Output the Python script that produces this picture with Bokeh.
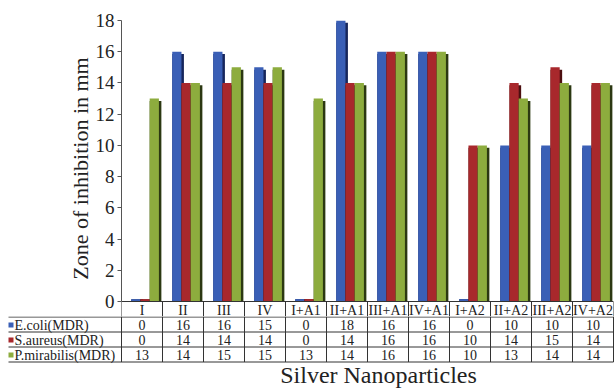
from bokeh.plotting import figure
from bokeh.models import Range1d, FixedTicker
from bokeh.core.properties import value
from bokeh.embed import file_html
from bokeh.resources import INLINE

# ---------------- data ----------------
categories = ["I", "II", "III", "IV", "I+A1", "II+A1", "III+A1", "IV+A1",
              "I+A2", "II+A2", "III+A2", "IV+A2"]
ecoli = [0, 16, 16, 15, 0, 18, 16, 16, 0, 10, 10, 10]
saureus = [0, 14, 14, 14, 0, 14, 16, 16, 10, 14, 15, 14]
pmirabilis = [13, 14, 15, 15, 13, 14, 16, 16, 10, 13, 14, 14]
series_names = ["E.coli(MDR)", "S.aureus(MDR)", "P.mirabilis(MDR)"]
y_ticks = [0, 2, 4, 6, 8, 10, 12, 14, 16, 18]
y_title = "Zone of inhibition in mm"
x_title = "Silver Nanoparticles"

# ---------------- styles ----------------
FONT = "Liberation Serif"
colors = ["#3a5fb6", "#a8282c", "#8dac3e"]
darks = ["#17265c", "#4c0f10", "#2c3812"]
offsets = [0.35, 0.575, 0.80]
bw = 0.225
W = 615
LEFT = 121
RIGHT = 613
TOP = 20
BASE = 301
HDR = 15
n = len(categories)
unit = (RIGHT - LEFT) / n
yunit = (BASE - TOP) / 18.0
xmin = -LEFT / unit
xmax = n + (W - RIGHT) / unit
ybot = -HDR / yunit

# ---------------- chart (with header row of the table) ----------------
p = figure(width=W, height=BASE + HDR, x_range=Range1d(0, n),
           y_range=Range1d(ybot, 18),
           x_axis_type=None, output_backend="svg", toolbar_location=None,
           min_border_left=LEFT, min_border_right=W - RIGHT, min_border_top=TOP,
           min_border_bottom=0)
p.outline_line_color = None
p.ygrid.grid_line_color = None
p.background_fill_color = "white"
p.border_fill_color = "white"

ax = p.yaxis[0]
ax.ticker = FixedTicker(ticks=y_ticks)
ax.bounds = (0, 18)
ax.major_label_text_font = FONT
ax.major_label_text_font_size = "19px"
ax.major_label_text_color = "#222222"
ax.major_tick_out = 4
ax.major_tick_in = 0
ax.minor_tick_line_color = None
ax.axis_line_color = "#555555"
ax.major_tick_line_color = "#555555"
ax.major_label_standoff = 3
ax.axis_label = y_title
ax.axis_label_text_font = FONT
ax.axis_label_text_font_size = "22px"
ax.axis_label_text_font_style = "normal"
ax.axis_label_text_color = "#222222"
ax.axis_label_standoff = 0

for vals, c, d, off in zip([ecoli, saureus, pmirabilis], colors, darks, offsets):
    left = [i + off - bw / 2 for i in range(n)]
    right = [l + bw for l in left]
    top = [max(v, 0.15) for v in vals]
    stop = [t - 0.15 if t > 0.5 else t for t in top]
    p.quad(left=left, right=[r + 0.06 for r in right], top=stop, bottom=0,
           fill_color=d, line_color=None)
    p.quad(left=left, right=right, top=top, bottom=0,
           fill_color=c, line_color=None)

# header row: top line, vertical separators, category names
p.segment(x0=[0], x1=[n], y0=[0], y1=[0], line_color="#333333", line_width=1)
vx = [float(i) for i in range(n + 1)]
p.segment(x0=vx, x1=vx, y0=[0] * len(vx), y1=[ybot] * len(vx),
          line_color="#333333", line_width=1)
p.text(x=[i + 0.5 for i in range(n)], y=[-8.5 / yunit] * n, text=categories,
       text_font=value(FONT), text_font_size="14px", text_align="center",
       text_baseline="middle", text_color="#222222")

# ---------------- table body ----------------
TH = 388 - BASE - HDR
t = figure(width=W, height=TH, x_range=Range1d(xmin, xmax), y_range=Range1d(TH, 0),
           x_axis_type=None, y_axis_type=None, output_backend="svg",
           toolbar_location=None, min_border=0)
t.outline_line_color = None
t.xgrid.grid_line_color = None
t.ygrid.grid_line_color = None

row_lines = [0.5, 15.5, 30.5, 45.5]
x_start = xmin + 8 / unit
t.segment(x0=[x_start] * 4, x1=[n] * 4, y0=row_lines, y1=row_lines,
          line_color="#333333", line_width=1)
t.segment(x0=vx, x1=vx, y0=[0] * len(vx), y1=[45.5] * len(vx),
          line_color="#333333", line_width=1)

row_y = [8.5, 23.5, 38.5]
for vals, ry in zip([ecoli, saureus, pmirabilis], row_y):
    t.text(x=[i + 0.5 for i in range(n)], y=[ry] * n, text=[str(v) for v in vals],
           text_font=value(FONT), text_font_size="14px", text_align="center",
           text_baseline="middle", text_color="#222222")

t.rect(x=[xmin + 10.5 / unit] * 3, y=row_y, width=5 / unit, height=5,
       fill_color=colors, line_color=None)
t.text(x=[xmin + 14 / unit] * 3, y=row_y, text=series_names,
       text_font=value(FONT), text_font_size="14px", text_align="left",
       text_baseline="middle", text_color="#222222")

t.text(x=[xmin + 378 / unit], y=[58], text=[x_title], text_font=value(FONT),
       text_font_size="24px", text_align="center", text_baseline="middle",
       text_color="#222222")

open("out.html", "w").write(file_html([p, t], INLINE))
